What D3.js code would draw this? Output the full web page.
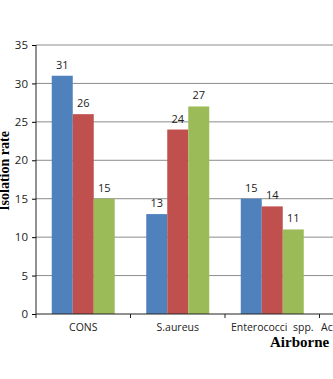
<!DOCTYPE html>
<html>
<head>
<meta charset="utf-8">
<script src="https://cdn.jsdelivr.net/npm/d3@7"></script>
<style>
  body { margin: 0; background: #fff; }
  svg { display: block; }
</style>
</head>
<body>
<svg id="chart" width="333" height="379"></svg>
<script>
var categories = ["CONS", "S.aureus", "Enterococci  spp.", "Acinetobacter spp."]
var series1 = [31, 13, 15]
var series2 = [26, 24, 14]
var series3 = [15, 27, 11]
var yTicks = [0, 5, 10, 15, 20, 25, 30, 35]
var colors = ["#4f81bd", "#c0504d", "#9bbb59"]

var svg = d3.select("#chart")
var margin = {top: 45, left: 36, bottom: 314}
var bandWidth = 94.5

var x = d3.scaleBand()
          .domain(categories)
          .range([margin.left, margin.left + bandWidth * categories.length])
          .paddingInner(0)
          .paddingOuter(0)

var y = d3.scaleLinear()
          .domain([0, 35])
          .range([margin.bottom, margin.top])

// horizontal grid
svg.append("g").selectAll("line").data(yTicks.slice(1)).enter()
   .append("line")
   .attr("x1", margin.left)
   .attr("x2", 333)
   .attr("y1", function(d){ return y(d) })
   .attr("y2", function(d){ return y(d) })
   .attr("stroke", "#8c8c8c")
   .attr("stroke-width", 1)

var groups = [series1, series2, series3]
var xInner = d3.scaleBand()
               .domain([0, 1, 2])
               .range([0, x.bandwidth()])
               .paddingOuter(0.75)
               .paddingInner(0)

groups.forEach(function(vals, s){
  var g = svg.append("g")
  g.selectAll("rect").data(vals).enter()
   .append("rect")
   .attr("x", function(d, i){ return x(categories[i]) + xInner(s) })
   .attr("y", function(d){ return y(d) })
   .attr("width", xInner.bandwidth())
   .attr("height", function(d){ return y(0) - y(d) })
   .attr("fill", colors[s])

  g.selectAll("text").data(vals).enter()
   .append("text")
   .attr("x", function(d, i){ return x(categories[i]) + xInner(s) + xInner.bandwidth() / 2 })
   .attr("y", function(d){ return y(d) - 7 })
   .attr("text-anchor", "middle")
   .attr("font-family", "Open Sans, Liberation Sans, sans-serif")
   .attr("font-size", "11px")
   .attr("fill", "#222")
   .text(function(d){ return d })
})

// y axis
var yAxis = d3.axisLeft(y).tickValues(yTicks).tickSize(4).tickPadding(4)
var gy = svg.append("g")
            .attr("transform", "translate(" + margin.left + ",0)")
            .call(yAxis)
gy.select(".domain").attr("stroke", "#222").attr("d", "M0," + y(35) + "V" + y(0))
gy.selectAll("text").attr("font-family", "Open Sans, Liberation Sans, sans-serif")
  .attr("font-size", "11.5px").attr("fill", "#222")

// x axis
var xAxis = d3.axisBottom(x).tickSize(0).tickPadding(10)
var gx = svg.append("g")
            .attr("transform", "translate(0," + y(0) + ")")
            .call(xAxis)
gx.select(".domain").attr("stroke", "#222").attr("d", "M" + margin.left + ",0H333")
gx.selectAll("text").attr("font-family", "Open Sans, Liberation Sans, sans-serif")
  .attr("font-size", "10.5px").attr("fill", "#222")
  .style("white-space", "pre")

// category separators
gx.selectAll(".sep").data(categories).enter()
  .append("line")
  .attr("x1", function(d){ return x(d) })
  .attr("x2", function(d){ return x(d) })
  .attr("y1", 0)
  .attr("y2", 4)
  .attr("stroke", "#222")

svg.append("text")
   .attr("transform", "translate(8.5," + 171 + ") rotate(-90)")
   .attr("text-anchor", "middle")
   .attr("font-family", "Liberation Serif, serif")
   .attr("font-weight", "bold")
   .attr("font-size", "14px")
   .text("Isolation rate")

svg.append("text")
   .attr("x", 270)
   .attr("y", 347)
   .attr("font-family", "Liberation Serif, serif")
   .attr("font-weight", "bold")
   .attr("font-size", "15px")
   .text("Airborne bacteria")
</script>
</body>
</html>
